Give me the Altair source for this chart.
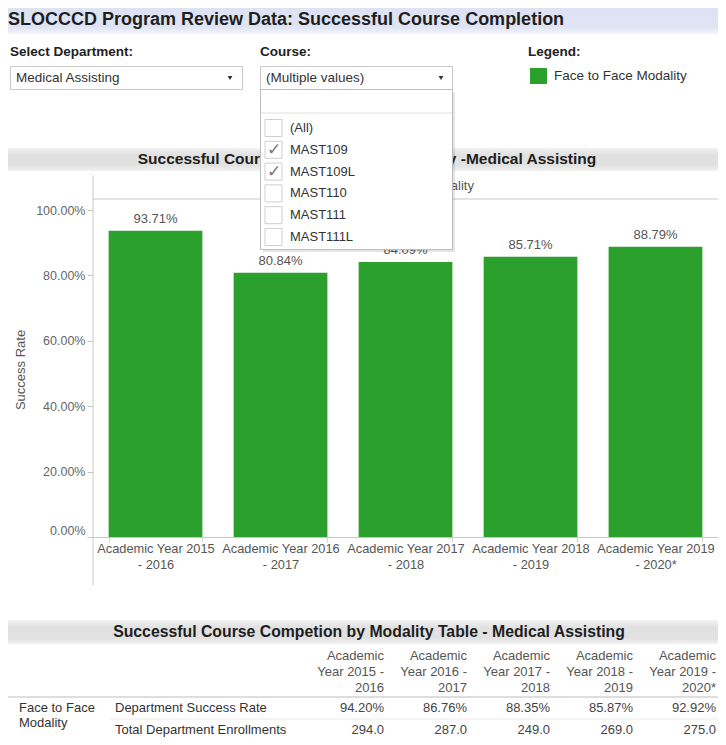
import altair as alt
import pandas as pd

# ---------------- data ----------------
years = [
    "Academic Year 2015 - 2016",
    "Academic Year 2016 - 2017",
    "Academic Year 2017 - 2018",
    "Academic Year 2018 - 2019",
    "Academic Year 2019 - 2020*",
]
success_rate = [0.9371, 0.8084, 0.8409, 0.8571, 0.8879]
dept_success_rate = [0.9420, 0.8676, 0.8835, 0.8587, 0.9292]
dept_enrollments = [294.0, 287.0, 249.0, 269.0, 275.0]
courses = ["(All)", "MAST109", "MAST109L", "MAST110", "MAST111", "MAST111L"]
course_checked = [False, True, True, False, False, False]
y_ticks = [0.0, 0.2, 0.4, 0.6, 0.8, 1.0]

FONT = "Liberation Sans"
GREEN = "#2ca02c"

bars_df = pd.DataFrame({"year": years, "rate": success_rate})
table_df = pd.DataFrame({
    "year": years,
    "dept_rate": dept_success_rate,
    "enroll": dept_enrollments,
    "h1": [y.split(" - ")[0].split(" ")[0] for y in years],
    "h2": [" ".join(y.split(" - ")[0].split(" ")[1:]) + " -" for y in years],
    "h3": [y.split(" - ")[1] for y in years],
})
course_df = pd.DataFrame({"course": courses, "checked": course_checked})
one = pd.DataFrame({"k": [0]})

# canvas: page x 8..718, page y 8..737
CW, CH = 710, 729
# view origin (plot area top-left) in page pixels
OX, OY = 93, 199
RIGHT = 8 + CW
W, H = RIGHT - OX, 338


def PX(x):
    return x - OX


def PY(y):
    return y - OY


def rect(x1, x2, y1, y2, **kw):
    return alt.Chart(one).mark_rect(**kw).encode(
        x=alt.value(PX(x1)), x2=alt.value(PX(x2)),
        y=alt.value(PY(y1)), y2=alt.value(PY(y2)))


def rule(x1, x2, y1, y2, color, width=1):
    return alt.Chart(one).mark_rule(color=color, strokeWidth=width).encode(
        x=alt.value(PX(x1)), x2=alt.value(PX(x2)),
        y=alt.value(PY(y1)), y2=alt.value(PY(y2)))


def label(txt, x, y, size=13, bold=False, color="#333", align="left", angle=0, font=FONT):
    kw = dict(text=txt, font=font, fontSize=size, color=color, align=align,
              baseline="middle", fontWeight="bold" if bold else "normal")
    if angle:
        kw["angle"] = angle
    return alt.Chart(one).mark_text(**kw).encode(x=alt.value(PX(x)), y=alt.value(PY(y)))


def band_gradient(c_edge, c_mid):
    return alt.LinearGradient(
        gradient="linear", x1=0, x2=0, y1=0, y2=1,
        stops=[alt.GradientStop(color=c_edge, offset=0),
               alt.GradientStop(color=c_mid, offset=0.3),
               alt.GradientStop(color=c_mid, offset=0.75),
               alt.GradientStop(color=c_edge, offset=1)])


layers = []

# ---------- header area ----------
layers.append(rect(0, RIGHT, 0, 34, color=alt.LinearGradient(
    gradient="linear", x1=0, x2=0, y1=0, y2=1,
    stops=[alt.GradientStop(color="#dde2f3", offset=0),
           alt.GradientStop(color="#dfe4f4", offset=0.8),
           alt.GradientStop(color="#f3f5fb", offset=1)])))
layers.append(label("SLOCCCD Program Review Data: Successful Course Completion", 8, 20,
                    size=18, bold=True, color="#1e1e1e"))
layers.append(label("Select Department:", 10, 52, size=13.5, bold=True, color="#222"))
layers.append(label("Course:", 260, 52, size=13.5, bold=True, color="#222"))
layers.append(label("Legend:", 528, 52, size=13.5, bold=True, color="#222"))

layers.append(rect(10.5, 242.5, 66.5, 89.5, fill="white", stroke="#c9c9c9", strokeWidth=1))
layers.append(label("Medical Assisting", 16, 78, size=13.5))
layers.append(rect(260.5, 452.5, 66.5, 89.5, fill="white", stroke="#c9c9c9", strokeWidth=1))
layers.append(label("(Multiple values)", 266, 78, size=13.5))
for ax in (230, 441):
    layers.append(alt.Chart(one).mark_point(shape="triangle-down", filled=True, size=24,
                                            color="#333", opacity=1).encode(
        x=alt.value(PX(ax)), y=alt.value(PY(78))))

layers.append(rect(530, 547, 68, 84, fill=GREEN))
layers.append(label("Face to Face Modality", 554, 76, size=13.5))

# ---------- chart title band & frame ----------
layers.append(rect(8, RIGHT, 148, 171, color=band_gradient("#f2f2f2", "#e1e1e1")))
layers.append(label("Successful Course Completion by Modality -Medical Assisting", 367, 159,
                    size=15.5, bold=True, color="#1e1e1e", align="center"))
layers.append(label("Face to Face Modality", 410, 186, size=13, color="#555", align="center"))
layers.append(rule(OX, RIGHT, 199, 199, "#c8c8c8"))
layers.append(rule(OX, OX, 175, 585, "#c8c8c8"))
layers.append(label("Success Rate", 21, 370, size=13, color="#555", align="center", angle=270))

# ---------- bars ----------
x_band = alt.Scale(domain=years, paddingInner=0.25, paddingOuter=0.125)
y_lin = alt.Scale(domain=[0, 1.034], nice=False, zero=True)

bars = alt.Chart(bars_df).mark_bar(color=GREEN).encode(
    x=alt.X("year:N", sort=years, scale=x_band, axis=alt.Axis(
        title=None, labelAngle=0,
        labelExpr="datum.label ? [split(datum.label, ' - ')[0], '- ' + split(datum.label, ' - ')[1]] : ''",
        labelFont=FONT, labelFontSize=12.8, labelColor="#555", labelLineHeight=16,
        labelPadding=0, labelOverlap=False, labelLimit=200,
        domainColor="#c8c8c8", tickBand="extent", tickColor="#d4d4d4", tickSize=5, grid=False)),
    y=alt.Y("rate:Q", scale=y_lin, axis=alt.Axis(
        title=None, values=y_ticks, format=".2%", grid=False, domain=False,
        labelFont=FONT, labelFontSize=12.5, labelColor="#666", labelPadding=2,
        labelFlush=True, tickColor="#c4c4c4", tickSize=6)),
)
bar_labels = alt.Chart(bars_df).mark_text(
    baseline="bottom", dy=-5, font=FONT, fontSize=13, color="#555").encode(
    x=alt.X("year:N", sort=years, scale=x_band, axis=None),
    y=alt.Y("rate:Q", scale=y_lin, axis=None),
    text=alt.Text("rate:Q", format=".2%"),
)
layers += [bars, bar_labels]

# ---------- table ----------
layers.append(rect(8, RIGHT, 620, 644, color=band_gradient("#f2f2f2", "#e1e1e1")))
layers.append(label("Successful Course Competion by Modality Table - Medical Assisting", 369, 632,
                    size=15.8, bold=True, color="#1e1e1e", align="center"))
x_tab = alt.Scale(type="point", domain=years, range=[PX(384), PX(RIGHT - 2)], padding=0)
for field, yy in (("h1", 656), ("h2", 672), ("h3", 688)):
    layers.append(alt.Chart(table_df).mark_text(
        align="right", baseline="middle", font=FONT, fontSize=13, color="#555").encode(
        x=alt.X("year:N", scale=x_tab, axis=None), y=alt.value(PY(yy)), text=f"{field}:N"))
layers.append(rule(8, RIGHT, 697, 697, "#bdbdbd"))
layers.append(rule(110, RIGHT, 719, 719, "#ececec"))
layers.append(label("Face to Face", 19, 708))
layers.append(label("Modality", 19, 723))
layers.append(label("Department Success Rate", 115, 708))
layers.append(label("Total Department Enrollments", 115, 729.5))
layers.append(alt.Chart(table_df).mark_text(
    align="right", baseline="middle", font=FONT, fontSize=13, color="#444").encode(
    x=alt.X("year:N", scale=x_tab, axis=None), y=alt.value(PY(708)),
    text=alt.Text("dept_rate:Q", format=".2%")))
layers.append(alt.Chart(table_df).mark_text(
    align="right", baseline="middle", font=FONT, fontSize=13, color="#444").encode(
    x=alt.X("year:N", scale=x_tab, axis=None), y=alt.value(PY(729.5)),
    text=alt.Text("enroll:Q", format=".1f")))

# ---------- open course dropdown (overlay) ----------
layers.append(rect(263, 455, 92, 252, fill="#000000", opacity=0.10))
layers.append(rect(260.5, 452.5, 89.5, 249.5, fill="white", stroke="#bdbdbd", strokeWidth=1))
layers.append(rule(261, 452, 113, 113, "#dedede"))
y_list = alt.Scale(type="point", domain=courses, range=[PY(128), PY(237)], padding=0)
layers.append(alt.Chart(course_df).mark_square(
    size=290, fill="white", stroke="#cfcfcf", strokeWidth=1, opacity=1).encode(
    x=alt.value(PX(273.5)), y=alt.Y("course:N", scale=y_list, axis=None)))
layers.append(alt.Chart(course_df).transform_filter("datum.checked").mark_text(
    text="\u2713", font="DejaVu Sans", fontSize=17, color="#777", align="center",
    baseline="middle").encode(
    x=alt.value(PX(274)), y=alt.Y("course:N", scale=y_list, axis=None)))
layers.append(alt.Chart(course_df).mark_text(
    align="left", baseline="middle", font=FONT, fontSize=13, color="#333").encode(
    x=alt.value(PX(290)), y=alt.Y("course:N", scale=y_list, axis=None), text="course:N"))

chart = alt.layer(*layers).resolve_scale(x="independent", y="independent").properties(
    width=W, height=H,
    padding={"left": OX - 8, "top": OY - 8, "right": 0, "bottom": CH - (OY - 8) - H},
    autosize=alt.AutoSizeParams(type="none"),
    background="white",
).configure_view(stroke=None)

chart.save("out.html", embed_options={"renderer": "svg", "actions": False})
